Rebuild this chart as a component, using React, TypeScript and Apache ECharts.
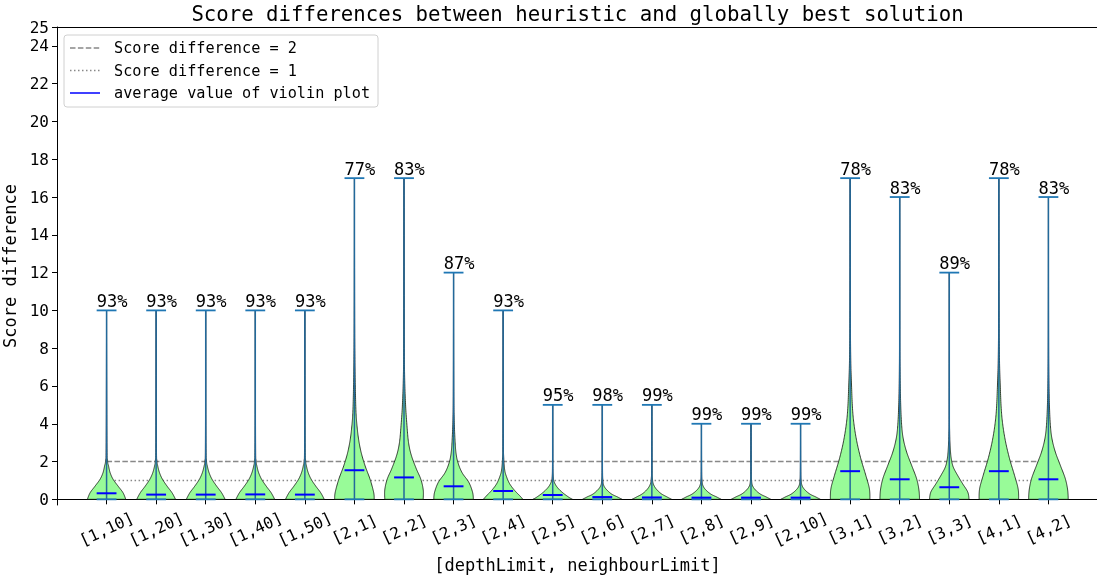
import React, { useEffect, useRef } from "react";
import * as echarts from "echarts";

const categories = ["[1,10]", "[1,20]", "[1,30]", "[1,40]", "[1,50]", "[2,1]", "[2,2]", "[2,3]", "[2,4]", "[2,5]", "[2,6]", "[2,7]", "[2,8]", "[2,9]", "[2,10]", "[3,1]", "[3,2]", "[3,3]", "[4,1]", "[4,2]"];
const maxValues = [10, 10, 10, 10, 10, 17, 17, 12, 10, 5, 5, 5, 4, 4, 4, 17, 16, 12, 17, 16];
const meanValues = [0.32, 0.25, 0.25, 0.26, 0.25, 1.54, 1.16, 0.69, 0.44, 0.23, 0.12, 0.1, 0.09, 0.09, 0.09, 1.49, 1.06, 0.64, 1.49, 1.06];
const percentLabels = ["93%", "93%", "93%", "93%", "93%", "77%", "83%", "87%", "93%", "95%", "98%", "99%", "99%", "99%", "99%", "78%", "83%", "89%", "78%", "83%"];
const yTickValues = [0, 2, 4, 6, 8, 10, 12, 14, 16, 18, 20, 22, 24, 25];
const refLineDashed = 2;
const refLineDotted = 1;

// density profile of each violin: [score, relative half-width]
const violinProfiles: number[][][] = [
  [[0, 0.97], [0.35, 0.83], [0.7, 0.58], [1.06, 0.33], [1.41, 0.18], [1.77, 0.1], [2.05, 0.05], [3, 0.02]],
  [[0, 0.98], [0.35, 0.8], [0.7, 0.55], [1.06, 0.32], [1.41, 0.17], [1.77, 0.08], [2.05, 0.04], [3, 0.015]],
  [[0, 0.98], [0.35, 0.8], [0.7, 0.55], [1.06, 0.32], [1.41, 0.17], [1.77, 0.08], [2.05, 0.04], [3, 0.015]],
  [[0, 0.98], [0.35, 0.8], [0.7, 0.55], [1.06, 0.32], [1.41, 0.17], [1.77, 0.08], [2.05, 0.04], [3, 0.015]],
  [[0, 0.98], [0.35, 0.8], [0.7, 0.55], [1.06, 0.32], [1.41, 0.17], [1.77, 0.08], [2.05, 0.04], [3, 0.015]],
  [[0, 1], [0.37, 0.97], [1.06, 0.79], [1.77, 0.54], [2.48, 0.34], [3.18, 0.21], [3.89, 0.13], [4.6, 0.08], [5.7, 0.05], [7.4, 0.025], [10, 0.01]],
  [[0, 0.97], [0.5, 0.97], [1.06, 0.85], [1.62, 0.62], [2.33, 0.37], [3.0, 0.23], [3.9, 0.15], [5, 0.08], [6.6, 0.03], [9, 0.012]],
  [[0, 1], [0.37, 0.96], [0.9, 0.77], [1.41, 0.43], [1.95, 0.22], [2.48, 0.12], [3.2, 0.07], [4.3, 0.03], [6, 0.012]],
  [[0, 1], [0.2, 0.83], [0.47, 0.58], [0.82, 0.33], [1.2, 0.17], [1.55, 0.08], [2.2, 0.03], [3.5, 0.01]],
  [[0, 1], [0.12, 0.8], [0.38, 0.47], [0.65, 0.22], [0.91, 0.08], [1.17, 0.03], [2, 0.01]],
  [[0, 1], [0.12, 0.78], [0.28, 0.47], [0.51, 0.22], [0.72, 0.08], [1.0, 0.03], [1.8, 0.01]],
  [[0, 1], [0.12, 0.78], [0.3, 0.47], [0.55, 0.22], [0.8, 0.08], [1.1, 0.03], [1.8, 0.01]],
  [[0, 1], [0.12, 0.78], [0.28, 0.47], [0.5, 0.22], [0.72, 0.08], [1.0, 0.03], [1.6, 0.01]],
  [[0, 1], [0.12, 0.78], [0.28, 0.47], [0.5, 0.22], [0.72, 0.08], [1.0, 0.03], [1.6, 0.01]],
  [[0, 1], [0.12, 0.78], [0.28, 0.47], [0.5, 0.22], [0.72, 0.08], [1.0, 0.03], [1.6, 0.01]],
  [[0, 1], [0.57, 0.97], [1.27, 0.79], [2.15, 0.54], [3.04, 0.34], [3.93, 0.2], [4.8, 0.12], [6.05, 0.07], [7.5, 0.03], [10, 0.012]],
  [[0, 1], [0.5, 0.97], [1.1, 0.85], [1.8, 0.6], [2.5, 0.35], [3.2, 0.18], [3.9, 0.1], [5, 0.05], [6.6, 0.02], [9, 0.008]],
  [[0, 1], [0.39, 0.93], [0.83, 0.67], [1.27, 0.42], [1.71, 0.2], [2.15, 0.1], [2.7, 0.05], [3.5, 0.02], [5, 0.008]],
  [[0, 1], [0.57, 0.97], [1.27, 0.79], [2.15, 0.54], [3.04, 0.34], [3.93, 0.2], [4.8, 0.12], [6.05, 0.07], [7.5, 0.03], [10, 0.012]],
  [[0, 1], [0.5, 0.97], [1.1, 0.85], [1.8, 0.6], [2.5, 0.35], [3.2, 0.18], [3.9, 0.1], [5, 0.05], [6.6, 0.02], [9, 0.008]],
];

const FONT = '"DejaVu Sans Mono", monospace';
const VIOLIN_HALF = 0.4; // half-width in category units
const CAP_HALF = 0.2;

function catmullRom(pts: number[][]): number[][] {
  const out: number[][] = [];
  const n = pts.length;
  for (let i = 0; i < n - 1; i++) {
    const p0 = pts[Math.max(0, i - 1)];
    const p1 = pts[i];
    const p2 = pts[i + 1];
    const p3 = pts[Math.min(n - 1, i + 2)];
    for (let s = 0; s < 12; s++) {
      const t = s / 12;
      const t2 = t * t;
      const t3 = t2 * t;
      const f = (a: number, b: number, c: number, d: number) =>
        0.5 * (2 * b + (-a + c) * t + (2 * a - 5 * b + 4 * c - d) * t2 + (-a + 3 * b - 3 * c + d) * t3);
      out.push([f(p0[0], p1[0], p2[0], p3[0]), f(p0[1], p1[1], p2[1], p3[1])]);
    }
  }
  out.push(pts[n - 1]);
  return out;
}

function renderViolin(params: any, api: any) {
  const i = params.dataIndex;
  const pos = api.value(0);
  const max = api.value(1);
  const mean = api.value(2);
  const unit = api.size([1, 0])[0];
  const cx = api.coord([pos, 0])[0];
  const y0 = api.coord([pos, 0])[1];
  const yMax = api.coord([pos, max])[1];
  const yMean = api.coord([pos, mean])[1];
  const hw = VIOLIN_HALF * unit;
  const capHw = CAP_HALF * unit;
  const prof = violinProfiles[i];
  const right = prof.map(([y, w]) => [w * hw, api.coord([pos, y])[1]]);
  right.push([0, yMax]);
  const sm = catmullRom(right).map(([w, y]) => [Math.max(0, w), y]);
  const pts: number[][] = [];
  sm.forEach(([w, y]) => pts.push([cx + w, y]));
  for (let k = sm.length - 2; k >= 0; k--) pts.push([cx - sm[k][0], sm[k][1]]);
  const blue = "#1f77b4";
  return {
    type: "group",
    children: [
      {
        type: "polygon",
        shape: { points: pts },
        style: { fill: "#98fb98", stroke: "rgba(0,0,0,0.75)", lineWidth: 1 },
      },
      { type: "line", shape: { x1: cx, y1: y0, x2: cx, y2: yMax }, style: { stroke: "#22699b", lineWidth: 1.5 } },
      { type: "line", shape: { x1: cx - capHw, y1: y0, x2: cx + capHw, y2: y0 }, style: { stroke: blue, lineWidth: 1.8 } },
      { type: "line", shape: { x1: cx - capHw, y1: yMax, x2: cx + capHw, y2: yMax }, style: { stroke: blue, lineWidth: 1.8 } },
      { type: "line", shape: { x1: cx - capHw, y1: yMean, x2: cx + capHw, y2: yMean }, style: { stroke: "#0000ff", lineWidth: 2 } },
      {
        type: "text",
        x: cx - capHw,
        y: yMax - 1,
        style: {
          text: percentLabels[i],
          font: `17px ${FONT}`,
          fill: "#000",
          align: "left",
          verticalAlign: "bottom",
        },
      },
    ],
  };
}

export default function App() {
  const ref = useRef<HTMLDivElement>(null);
  useEffect(() => {
    if (!ref.current) return;
    const chart = echarts.init(ref.current, undefined, { renderer: "svg" });
    const positions = categories.map((_, i) => i + 1);
    const violinData = categories.map((_, i) => [i + 1, maxValues[i], meanValues[i]]);
    const first = positions[0];
    const last = positions[positions.length - 1];
    chart.setOption({
      animation: false,
      textStyle: { fontFamily: FONT },
      grid: { left: 57, right: -1, top: 27, bottom: 74, containLabel: false, outerBoundsMode: "none" },
      xAxis: [
        {
          type: "value",
          min: 0,
          max: 21,
          position: "bottom",
          axisLine: { show: true, lineStyle: { color: "#000", width: 1 } },
          axisTick: { show: true, length: 5, customValues: positions, lineStyle: { color: "#000" } },
          axisLabel: {
            show: true,
            customValues: positions,
            formatter: (v: number) => categories[Math.round(v) - 1] ?? "",
            rotate: 25,
            align: "center",
            verticalAlign: "middle",
            margin: 24,
            fontSize: 16,
            fontFamily: FONT,
            color: "#000",
          },
          splitLine: { show: false },
          name: "[depthLimit, neighbourLimit]",
          nameLocation: "middle",
          nameGap: 51,
          nameTextStyle: { fontSize: 17, fontFamily: FONT, color: "#000" },
        },
        {
          type: "value",
          min: 0,
          max: 21,
          position: "top",
          axisLine: { show: true, onZero: false, lineStyle: { color: "#000", width: 1 } },
          axisTick: { show: false },
          axisLabel: { show: false },
          splitLine: { show: false },
        },
      ],
      yAxis: {
        type: "value",
        min: -0.3,
        max: 25,
        axisLine: { show: true, onZero: false, lineStyle: { color: "#000", width: 1 } },
        axisTick: { show: true, length: 5, customValues: yTickValues, lineStyle: { color: "#000" } },
        axisLabel: {
          customValues: yTickValues,
          fontSize: 16,
          fontFamily: FONT,
          color: "#000",
          margin: 8,
        },
        splitLine: { show: false },
        name: "Score difference",
        nameLocation: "middle",
        nameGap: 33,
        nameTextStyle: { fontSize: 17, fontFamily: FONT, color: "#000" },
      },
      series: [
        {
          type: "line",
          name: "Score difference = 2",
          data: [[first, refLineDashed], [last, refLineDashed]],
          symbol: "none",
          z: 1,
          silent: true,
          lineStyle: { color: "#888", width: 1.5, type: [5.5, 2.4] },
        },
        {
          type: "line",
          name: "Score difference = 1",
          data: [[first, refLineDotted], [last, refLineDotted]],
          symbol: "none",
          z: 1,
          silent: true,
          lineStyle: { color: "#888", width: 1.5, type: [1.5, 2.5] },
        },
        {
          type: "custom",
          name: "violins",
          data: violinData,
          encode: { x: 0, y: 1 },
          renderItem: renderViolin,
          clip: false,
          z: 3,
          silent: true,
        },
      ],
      graphic: [
        {
          type: "text",
          x: 577.5,
          y: 14,
          style: {
            text: "Score differences between heuristic and globally best solution",
            font: `20.7px ${FONT}`,
            fill: "#000",
            align: "center",
            verticalAlign: "middle",
          },
        },
        {
          type: "group",
          children: [
            {
              type: "rect",
              shape: { x: 64, y: 35, width: 314, height: 72, r: 3 },
              style: { fill: "rgba(255,255,255,0.8)", stroke: "#d0d0d0", lineWidth: 1 },
            },
            { type: "line", shape: { x1: 70, y1: 48, x2: 100, y2: 48 }, style: { stroke: "#888", lineWidth: 1.5, lineDash: [5.5, 2.4] } },
            { type: "line", shape: { x1: 70, y1: 70.5, x2: 100, y2: 70.5 }, style: { stroke: "#888", lineWidth: 1.5, lineDash: [1.5, 2.5] } },
            { type: "line", shape: { x1: 70, y1: 93, x2: 100, y2: 93 }, style: { stroke: "#0000ff", lineWidth: 1.5 } },
            { type: "text", x: 114, y: 48, style: { text: "Score difference = 2", font: `15.2px ${FONT}`, fill: "#000", verticalAlign: "middle" } },
            { type: "text", x: 114, y: 70.5, style: { text: "Score difference = 1", font: `15.2px ${FONT}`, fill: "#000", verticalAlign: "middle" } },
            { type: "text", x: 114, y: 93, style: { text: "average value of violin plot", font: `15.2px ${FONT}`, fill: "#000", verticalAlign: "middle" } },
          ],
        },
      ],
    });
    return () => chart.dispose();
  }, []);
  return <div ref={ref} style={{ position: "fixed", left: 0, top: 0, width: 1097, height: 579 }} />;
}
